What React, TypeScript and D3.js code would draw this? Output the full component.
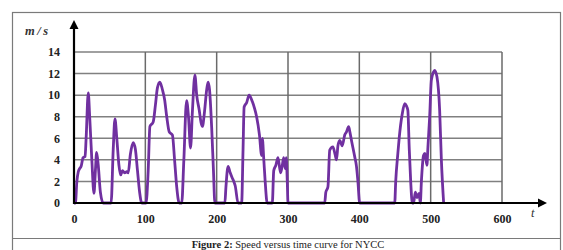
import * as d3 from "d3";
import { useEffect, useRef } from "react";

// время, с
const times = [
  0, 2, 4, 6, 8, 10, 12.7, 15.5, 17, 20, 22, 25, 28, 30, 31.7, 34, 37, 41,
  52, 55, 57.4, 60, 63, 65.4, 68, 71, 74, 76, 79, 83, 86, 89, 92, 95,
  101, 104, 106.4, 111, 114, 117, 120.4, 124, 127, 130, 133.5, 138, 141, 144, 147.5,
  151, 154, 157.8, 160.5, 163.4, 166, 169.5, 172, 175.6, 178, 180, 183, 186, 188, 190, 193, 195.5, 197.5,
  211.5, 213, 216, 219, 222, 224, 226, 230,
  235, 237, 238.5, 242, 245.5, 250, 253, 256, 260, 263, 264, 266, 268, 270.8,
  278, 280, 283, 286, 289.6, 292, 294, 296, 297.5, 299, 300,
  351.5, 353, 356, 358.5, 363, 366, 368, 370, 372.5, 376, 379.5, 382, 385, 387, 389, 393.5, 396, 398, 400.5,
  449.6, 451, 454, 456, 460, 463.6, 466, 468, 470, 472, 474.3,
  476, 478.5, 481, 483.7, 485.5, 487, 490, 492, 494.8, 496, 498.6, 501, 505.6, 508.8, 512.6, 515, 518.2,
];
// скорость, м/с
const speeds = [
  0, 0, 2.0, 2.9, 3.2, 3.4, 4.2, 4.3, 6, 10.2, 8, 4, 0.9, 3, 4.7, 3.5, 1, 0,
  0, 5, 7.8, 6, 3.5, 2.6, 3.0, 2.8, 2.9, 2.8, 4.5, 5.6, 5, 3, 1, 0,
  0, 3, 7.1, 7.5, 9, 10.7, 11.2, 10.5, 9.6, 8, 6.6, 6.3, 4, 1.5, 0,
  0, 4, 9.5, 8, 5.1, 8.5, 11.85, 10, 8.6, 7.5, 7.1, 8.5, 10.5, 11.2, 10.5, 7, 3, 0,
  0, 1.5, 3.4, 2.8, 2.3, 2.0, 1.6, 0,
  0, 5, 8.9, 9.3, 10.0, 9.4, 8.8, 8.0, 6.3, 4.4, 6.0, 4.1, 2, 0,
  0, 3.0, 3.5, 4.2, 2.8, 3.5, 4.2, 3.2, 4.2, 2, 0,
  0, 1.0, 1.5, 4.9, 5.2, 4.5, 4.0, 5.3, 5.8, 5.3, 6.3, 6.6, 7.07, 6.5, 5.8, 4.3, 3.4, 2, 0,
  0, 2, 4.6, 6.1, 8.2, 9.2, 9.0, 8.6, 5, 2, 0,
  0, 1.0, 0.5, 0.9, 0, 2, 4.4, 4.6, 3.5, 5, 8.0, 11.4, 12.3, 11.7, 8.6, 4, 0,
];
const xTicks = [0, 100, 200, 300, 400, 500, 600];
const yTicks = [0, 2, 4, 6, 8, 10, 12, 14];

const App = () => {
  const chartRef = useRef(null);
  const width = 563;
  const height = 250;
  const margin = { top: 52, bottom: 47, left: 74, right: 61 };

  useEffect(() => {
    const svg = d3.select(chartRef.current);
    svg.selectAll("*").remove();

    const x = d3.scaleLinear().domain([0, 600]).range([margin.left, width - margin.right]);
    const y = d3.scaleLinear().domain([0, 14]).range([height - margin.bottom, margin.top]);

    svg.append("rect").attr("width", width).attr("height", height).style("fill", "#fff");

    // рамка рисунка
    svg.append("rect")
      .attr("x", 12.5).attr("y", 12.5)
      .attr("width", 548).attr("height", 245)
      .style("fill", "none").style("stroke", "#7a7a7a").style("stroke-width", 1.2);
    svg.append("line")
      .attr("x1", 12.5).attr("x2", 560.5).attr("y1", 238.5).attr("y2", 238.5)
      .style("stroke", "#7a7a7a").style("stroke-width", 1.2);

    // сетка
    svg.append("g").selectAll("line").data(yTicks.slice(1)).enter().append("line")
      .attr("x1", x(0)).attr("x2", x(600))
      .attr("y1", d => y(d)).attr("y2", d => y(d))
      .style("stroke", "#808080").style("stroke-width", 1.5);
    svg.append("g").selectAll("line").data(xTicks.slice(1)).enter().append("line")
      .attr("x1", d => x(d)).attr("x2", d => x(d))
      .attr("y1", y(0)).attr("y2", y(14))
      .style("stroke", "#6a6a6a").style("stroke-width", 1.5);

    // кривая
    const line = d3.line<number>()
      .x((d, i) => x(times[i]))
      .y(d => y(d))
      .curve(d3.curveMonotoneX);
    svg.append("path")
      .attr("d", line(speeds))
      .style("fill", "none")
      .style("stroke", "#7030a0")
      .style("stroke-width", 2.8)
      .style("stroke-linejoin", "round");

    // оси со стрелками
    svg.append("line")
      .attr("x1", x(0)).attr("x2", x(0)).attr("y1", y(0) + 1).attr("y2", 27)
      .style("stroke", "#000").style("stroke-width", 2.2);
    svg.append("path")
      .attr("d", `M${x(0)},20 L${x(0) - 4.5},29 L${x(0) + 4.5},29 Z`)
      .style("fill", "#000");
    svg.append("line")
      .attr("x1", x(0) - 1).attr("x2", 540).attr("y1", y(0)).attr("y2", y(0))
      .style("stroke", "#000").style("stroke-width", 2.2);
    svg.append("path")
      .attr("d", `M547,${y(0)} L538,${y(0) - 4.5} L538,${y(0) + 4.5} Z`)
      .style("fill", "#000");

    const yAxis = d3.axisLeft(y).tickValues(yTicks).tickSize(0).tickPadding(14);
    const gy = svg.append("g").attr("transform", `translate(${margin.left},0)`).call(yAxis);
    gy.select(".domain").remove();
    gy.selectAll("text")
      .style("font-family", "'Liberation Serif', serif")
      .style("font-size", "12px").style("font-weight", "bold").style("fill", "#222");

    const xAxis = d3.axisBottom(x).tickValues(xTicks).tickSize(0).tickPadding(11);
    const gx = svg.append("g").attr("transform", `translate(0,${y(0)})`).call(xAxis);
    gx.select(".domain").remove();
    gx.selectAll("text")
      .style("font-family", "'Liberation Serif', serif")
      .style("font-size", "12px").style("font-weight", "bold").style("fill", "#222");

    svg.append("text")
      .attr("x", 25).attr("y", 35)
      .style("font-family", "'Liberation Serif', serif")
      .style("font-size", "12.5px").style("font-style", "italic").style("font-weight", "bold")
      .style("fill", "#333")
      .text("m\u2009/\u2009s");
    svg.append("text")
      .attr("x", 531).attr("y", 217)
      .style("font-family", "'Liberation Serif', serif")
      .style("font-size", "12.5px").style("font-style", "italic")
      .style("fill", "#333")
      .text("t");

    const cap = svg.append("text")
      .attr("x", 288).attr("y", 248)
      .attr("text-anchor", "middle")
      .style("font-family", "'Liberation Serif', serif")
      .style("font-size", "10.5px").style("fill", "#222");
    cap.append("tspan").style("font-weight", "bold").text("Figure 2:");
    cap.append("tspan").text(" Speed versus time curve for NYCC");
  }, []);

  return (
    <svg ref={chartRef} width={width} height={height}
      style={{ position: "absolute", left: 0, top: 0 }}></svg>
  );
};

export default App;
